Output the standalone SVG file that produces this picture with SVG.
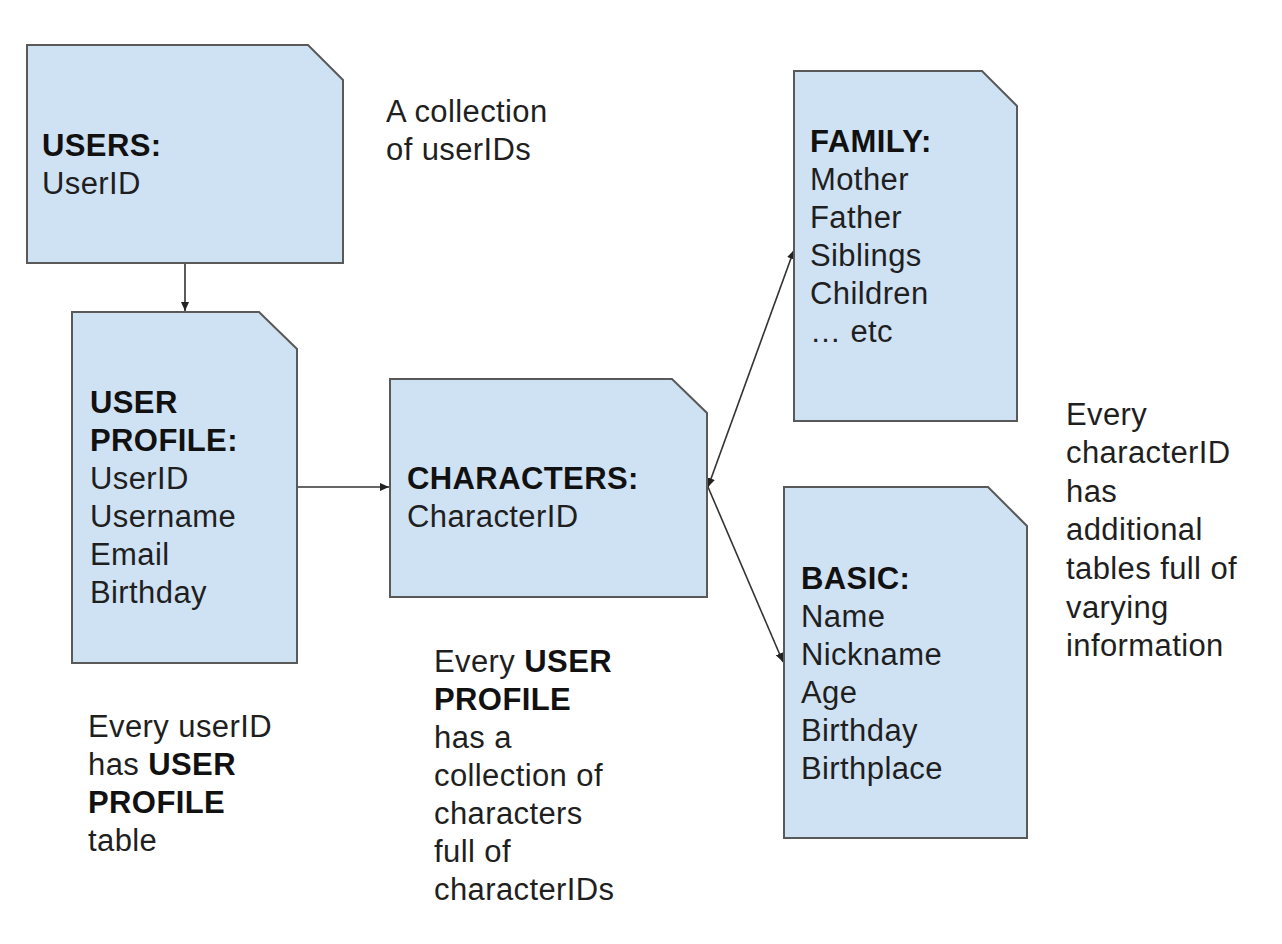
<svg xmlns="http://www.w3.org/2000/svg" width="1282" height="944" viewBox="0 0 1282 944">
<defs>
<style>
.node{fill:#cfe2f3;stroke:#595959;stroke-width:2}
text{font-family:"Liberation Sans",Arial,sans-serif;font-size:31px;letter-spacing:0.4px;fill:#1f1f1f}
.b{font-weight:bold;fill:#111}
.conn{stroke:#333;stroke-width:1.6;fill:none}
</style>
<marker id="ah" markerUnits="userSpaceOnUse" markerWidth="10" markerHeight="10" viewBox="0 0 10 10" refX="9" refY="5" orient="auto-start-reverse">
<path d="M0,1 L9,5 L0,9 z" fill="#222"/>
</marker>
</defs>
<rect width="1282" height="944" fill="#ffffff"/>
<g id="connectors">
<line class="conn" x1="185" y1="264" x2="185" y2="311" marker-end="url(#ah)"/>
<line class="conn" x1="298" y1="487" x2="389" y2="487" marker-end="url(#ah)"/>
<line class="conn" x1="708" y1="487" x2="794" y2="250" marker-start="url(#ah)" marker-end="url(#ah)"/>
<line class="conn" x1="708" y1="487" x2="783" y2="662" marker-end="url(#ah)"/>
</g>
<g id="users">
<path class="node" d="M27,45 L308,45 L343,80 L343,263 L27,263 Z"/>
<text x="42" y="156" class="b">USERS:</text>
<text x="42" y="194">UserID</text>
</g>
<g id="users-note">
<text x="386" y="122">A collection</text>
<text x="386" y="160">of userIDs</text>
</g>
<g id="user-profile">
<path class="node" d="M72,312 L259,312 L297,349 L297,663 L72,663 Z"/>
<text x="90" y="413" class="b">USER</text>
<text x="90" y="451" class="b">PROFILE:</text>
<text x="90" y="489">UserID</text>
<text x="90" y="527">Username</text>
<text x="90" y="565">Email</text>
<text x="90" y="603">Birthday</text>
</g>
<g id="characters">
<path class="node" d="M390,379 L672,379 L707,413 L707,597 L390,597 Z"/>
<text x="407" y="489" class="b">CHARACTERS:</text>
<text x="407" y="527">CharacterID</text>
</g>
<g id="family">
<path class="node" d="M794,71 L982,71 L1017,106 L1017,421 L794,421 Z"/>
<text x="810" y="152" class="b">FAMILY:</text>
<text x="810" y="190">Mother</text>
<text x="810" y="228">Father</text>
<text x="810" y="266">Siblings</text>
<text x="810" y="304">Children</text>
<text x="810" y="342">… etc</text>
</g>
<g id="basic">
<path class="node" d="M784,487 L988,487 L1027,526 L1027,838 L784,838 Z"/>
<text x="801" y="589" class="b">BASIC:</text>
<text x="801" y="627">Name</text>
<text x="801" y="665">Nickname</text>
<text x="801" y="703">Age</text>
<text x="801" y="741">Birthday</text>
<text x="801" y="779">Birthplace</text>
</g>
<g id="characters-note">
<text x="1066" y="425">Every</text>
<text x="1066" y="463">characterID</text>
<text x="1066" y="502">has</text>
<text x="1066" y="540">additional</text>
<text x="1066" y="579">tables full of</text>
<text x="1066" y="618">varying</text>
<text x="1066" y="656">information</text>
</g>
<g id="user-profile-note">
<text x="88" y="737">Every userID</text>
<text x="88" y="775">has <tspan class="b">USER</tspan></text>
<text x="88" y="813" class="b">PROFILE</text>
<text x="88" y="851">table</text>
</g>
<g id="profile-characters-note">
<text x="434" y="672">Every <tspan class="b">USER</tspan></text>
<text x="434" y="710" class="b">PROFILE</text>
<text x="434" y="748">has a</text>
<text x="434" y="786">collection of</text>
<text x="434" y="824">characters</text>
<text x="434" y="862">full of</text>
<text x="434" y="900">characterIDs</text>
</g>
</svg>
